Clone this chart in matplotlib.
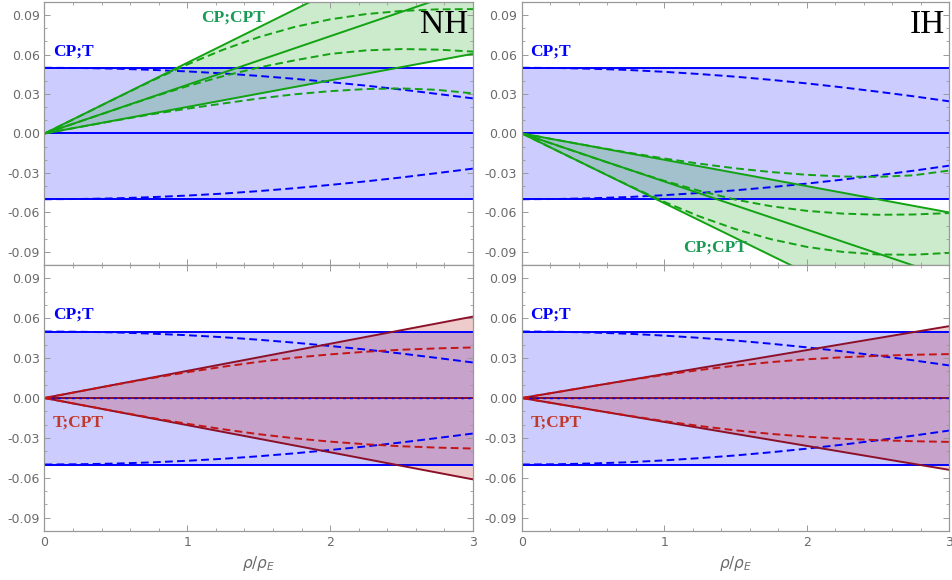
import numpy as np
import matplotlib.pyplot as plt
from matplotlib.ticker import MultipleLocator, FixedLocator

# rho / rho_E grid for the sampled curves
rho = [0, 0.25, 0.5, 0.75, 1.0, 1.25, 1.5, 1.75, 2.0, 2.25, 2.5, 2.75, 3.0]
rho_ends = [0, 3]

# CP;T band (solid bounds) and its dashed curves
cpt_bound = 0.05
nh_blue_up = [0.0500, 0.0498, 0.0493, 0.0484, 0.0472, 0.0457, 0.0438, 0.0416, 0.0391, 0.0364, 0.0334, 0.0301, 0.0267]
nh_blue_dn = [-0.0500, -0.0498, -0.0493, -0.0484, -0.0472, -0.0457, -0.0438, -0.0416, -0.0391, -0.0364, -0.0334, -0.0301, -0.0267]
ih_blue_up = [0.0500, 0.0498, 0.0492, 0.0483, 0.0469, 0.0452, 0.0432, 0.0408, 0.0381, 0.0351, 0.0318, 0.0283, 0.0245]
ih_blue_dn = [-0.0500, -0.0498, -0.0492, -0.0483, -0.0469, -0.0452, -0.0432, -0.0408, -0.0381, -0.0351, -0.0318, -0.0283, -0.0245]

# CP;CPT straight bounds (values at rho = 0 and 3)
nh_green_solid = [[0, 0.1614], [0, 0.111], [0, 0.0606]]
ih_green_solid = [[0, -0.0600], [0, -0.1095], [0, -0.1590]]
nh_green_dash = [
    [0, 0.0134, 0.0268, 0.0400, 0.0525, 0.0637, 0.0733, 0.0810, 0.0868, 0.0908, 0.0932, 0.0944, 0.0946],
    [0, 0.0092, 0.0184, 0.0275, 0.0360, 0.0436, 0.0502, 0.0556, 0.0605, 0.0632, 0.0642, 0.0638, 0.0623],
    [0, 0.0050, 0.0099, 0.0146, 0.0189, 0.0228, 0.0266, 0.0298, 0.0322, 0.0338, 0.0343, 0.0332, 0.0305],
]
ih_green_dash = [
    [0, -0.0050, -0.0099, -0.0146, -0.0190, -0.0230, -0.0265, -0.0293, -0.0314, -0.0327, -0.0330, -0.0318, -0.0282],
    [0, -0.0092, -0.0184, -0.0274, -0.0360, -0.0437, -0.0503, -0.0553, -0.0588, -0.0609, -0.0618, -0.0616, -0.0605],
    [0, -0.0133, -0.0265, -0.0395, -0.0520, -0.0632, -0.0727, -0.0804, -0.0862, -0.0900, -0.0920, -0.0922, -0.0908],
]

# T;CPT bounds (symmetric) and dashed curves
nh_red_solid = [0, 0.0612]
ih_red_solid = [0, 0.0540]
nh_red_dash = [0, 0.0051, 0.0101, 0.0149, 0.0194, 0.0235, 0.0272, 0.0303, 0.0328, 0.0348, 0.0363, 0.0373, 0.0380]
ih_red_dash = [0, 0.0045, 0.0090, 0.0133, 0.0174, 0.0211, 0.0243, 0.0270, 0.0291, 0.0306, 0.0317, 0.0325, 0.0330]

yticks = [-0.09, -0.06, -0.03, 0.0, 0.03, 0.06, 0.09]
xticks = [0, 1, 2, 3]

BLUE = '#0000ff'
GREEN = '#12a312'
GREEN_TXT = '#1a9a55'
RED_SOLID = '#8c1028'
RED_DASH = '#c41414'
RED_TXT = '#c0392b'
GRAY = '#6a6a6a'
DASH = (0, (4.0, 2.2))
LW = 1.4
SERIF = 'Liberation Serif'

fig = plt.figure(figsize=(9.53, 5.8), dpi=100)
W, H = 953, 580


def add_axes(x0, x1, y0, y1):
    return fig.add_axes([x0 / W, 1 - y1 / H, (x1 - x0) / W, (y1 - y0) / H])


def style(ax, bottom):
    ax.set_xlim(0, 3)
    ax.set_ylim(-0.1, 0.1)
    ax.yaxis.set_major_locator(FixedLocator(yticks))
    ax.yaxis.set_minor_locator(MultipleLocator(0.01))
    ax.xaxis.set_major_locator(FixedLocator(xticks))
    ax.xaxis.set_minor_locator(MultipleLocator(0.2))
    ax.set_yticklabels(['%.2f' % v if v != 0 else '0.00' for v in yticks])
    ax.tick_params(which='both', direction='in', top=True, right=True,
                   color='#999999', labelcolor=GRAY, labelsize=9)
    ax.tick_params(which='major', length=4, width=0.7)
    ax.tick_params(which='minor', length=2, width=0.6)
    for s in ax.spines.values():
        s.set_color('#999999')
        s.set_linewidth(0.9)
    if bottom:
        ax.set_xticklabels([str(v) for v in xticks])
        ax.set_xlabel(r'$\rho/\rho_E$', color=GRAY, fontsize=11, labelpad=4)
    else:
        ax.set_xticklabels([])


def blue_band(ax, up, dn):
    ax.fill_between(rho_ends, [-cpt_bound] * 2, [cpt_bound] * 2, color=BLUE, alpha=0.2, lw=0)
    for v in (cpt_bound, 0, -cpt_bound):
        ax.plot(rho_ends, [v, v], color=BLUE, lw=LW)
    ax.plot(rho, up, color=BLUE, lw=LW, ls=DASH)
    ax.plot(rho, dn, color=BLUE, lw=LW, ls=DASH)
    ax.text(0.06, 0.0625, 'CP;T', color=BLUE, fontsize=12.5, fontweight='bold',
            family=SERIF, va='center', ha='left')


def green_wedge(ax, solid, dash, label_xy):
    ax.fill_between(rho_ends, solid[0], solid[2], color='#009900', alpha=0.2, lw=0)
    for s in solid:
        ax.plot(rho_ends, s, color=GREEN, lw=LW)
    for d in dash:
        ax.plot(rho, d, color=GREEN, lw=LW, ls=DASH)
    ax.text(label_xy[0], label_xy[1], 'CP;CPT', color=GREEN_TXT, fontsize=12.5,
            fontweight='bold', family=SERIF, va='center', ha='left')


def red_wedge(ax, solid, dash):
    lo = [-v for v in solid]
    ax.fill_between(rho_ends, lo, solid, color=(0.7, 0.0, 0.0), alpha=0.2, lw=0)
    ax.plot(rho_ends, solid, color=RED_SOLID, lw=LW)
    ax.plot(rho_ends, lo, color=RED_SOLID, lw=LW)
    ax.plot(rho_ends, [0, 0], color=RED_SOLID, lw=LW)
    ax.plot(rho_ends, [0, 0], color=BLUE, lw=1.0, ls=(0, (2, 3)))
    ax.plot(rho, dash, color=RED_DASH, lw=LW, ls=DASH)
    ax.plot(rho, [-v for v in dash], color=RED_DASH, lw=LW, ls=DASH)
    ax.text(0.06, -0.0185, 'T;CPT', color=RED_TXT, fontsize=12.5, fontweight='bold',
            family=SERIF, va='center', ha='left')


ax_nh_top = add_axes(44.5, 473, 2, 265)
ax_ih_top = add_axes(522, 949, 2, 265)
ax_nh_bot = add_axes(44.5, 473, 265, 531)
ax_ih_bot = add_axes(522, 949, 265, 531)

blue_band(ax_nh_top, nh_blue_up, nh_blue_dn)
green_wedge(ax_nh_top, nh_green_solid, nh_green_dash, (1.1, 0.0885))
ax_nh_top.text(2.97, 0.083, 'NH', fontsize=24, family=SERIF, ha='right', va='center')

blue_band(ax_ih_top, ih_blue_up, ih_blue_dn)
green_wedge(ax_ih_top, ih_green_solid, ih_green_dash, (1.13, -0.087))
ax_ih_top.text(2.97, 0.083, 'IH', fontsize=24, family=SERIF, ha='right', va='center')

blue_band(ax_nh_bot, nh_blue_up, nh_blue_dn)
red_wedge(ax_nh_bot, nh_red_solid, nh_red_dash)

blue_band(ax_ih_bot, ih_blue_up, ih_blue_dn)
red_wedge(ax_ih_bot, ih_red_solid, ih_red_dash)

style(ax_nh_top, False)
style(ax_ih_top, False)
style(ax_nh_bot, True)
style(ax_ih_bot, True)

fig.savefig('out.png', dpi=100)
